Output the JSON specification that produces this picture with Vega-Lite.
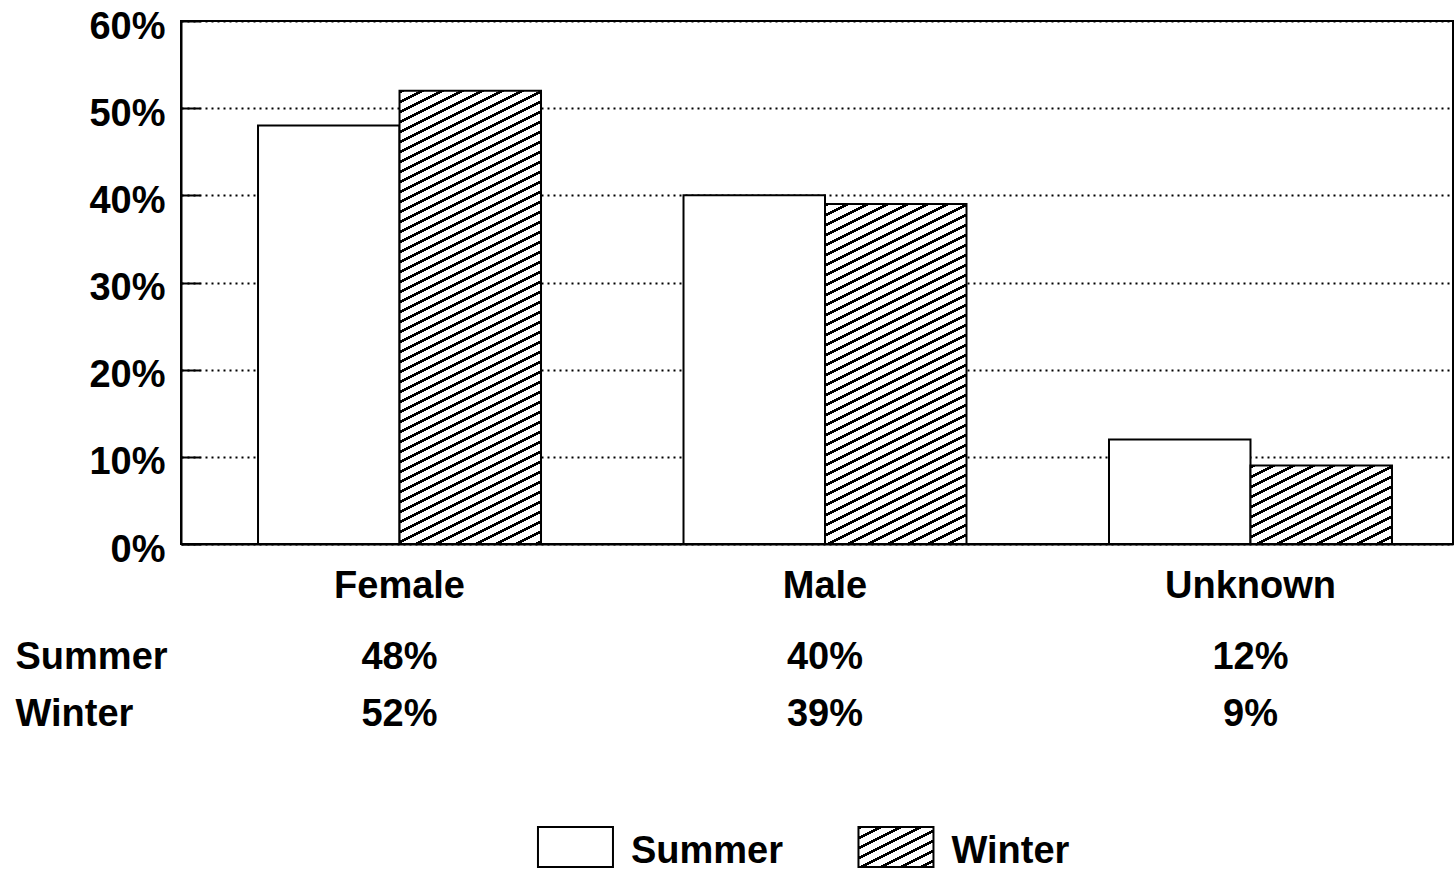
{
  "$schema": "https://vega.github.io/schema/vega-lite/v6.json",
  "background": "white",
  "padding": {"left": 15, "top": 7, "right": 0, "bottom": 0},
  "bounds": "flush",
  "spacing": 85.5,
  "config": {
    "view": {"stroke": null},
    "font": "Liberation Sans",
    "axis": {"labelFont": "Liberation Sans", "labelFontWeight": "bold", "labelFontSize": 38, "labelColor": "#000", "labelLimit": 400}
  },
  "datasets": {
    "shares": [
      {"gender": "Female", "season": "Summer", "share": 0.48},
      {"gender": "Female", "season": "Winter", "share": 0.52},
      {"gender": "Male", "season": "Summer", "share": 0.40},
      {"gender": "Male", "season": "Winter", "share": 0.39},
      {"gender": "Unknown", "season": "Summer", "share": 0.12},
      {"gender": "Unknown", "season": "Winter", "share": 0.09}
    ],
    "seasons": [
      {"season": "Summer"},
      {"season": "Winter"}
    ]
  },
  "vconcat": [
    {
      "width": 1272,
      "height": 523,
      "view": {"stroke": "#000", "strokeWidth": 2},
      "data": {"name": "shares"},
      "mark": {"type": "bar", "stroke": "#000", "strokeWidth": 2},
      "encoding": {
        "x": {
          "field": "gender", "type": "nominal", "sort": ["Female", "Male", "Unknown"],
          "scale": {"type": "band", "paddingInner": 0.3349, "paddingOuter": 0.1622, "align": 0.558},
          "axis": {"title": null, "labelAngle": 0, "ticks": false, "domain": true, "domainColor": "#000", "domainWidth": 2, "labelPadding": 42, "labelBaseline": "middle"}
        },
        "xOffset": {
          "field": "season", "type": "nominal", "sort": ["Summer", "Winter"],
          "scale": {"paddingInner": 0, "paddingOuter": 0}
        },
        "y": {
          "field": "share", "type": "quantitative",
          "scale": {"domain": [0, 0.6], "nice": false},
          "axis": {"title": null, "values": [0, 0.1, 0.2, 0.3, 0.4, 0.5, 0.6], "format": ".0%", "grid": true, "gridColor": "#000", "gridDash": [2, 4], "gridWidth": 2, "tickSize": -19, "tickWidth": 2, "tickColor": "#000", "labelPadding": 35, "labelOffset": 6, "domainColor": "#000", "domainWidth": 2, "labelFlush": false, "labelBaseline": "middle"}
        },
        "fill": {
          "condition": [
            {"test": "datum.season === 'Winter' && datum.gender === 'Female'", "value": {"gradient": "linear", "x1": 0, "y1": 0, "x2": 0.33612, "y2": 2.15355, "stops": [
{"offset":0,"color":"#000"},{"offset":0.003,"color":"#000"},{"offset":0.003,"color":"#fff"},{"offset":0.01,"color":"#fff"},
{"offset":0.01,"color":"#000"},{"offset":0.013,"color":"#000"},{"offset":0.013,"color":"#fff"},{"offset":0.02,"color":"#fff"},
{"offset":0.02,"color":"#000"},{"offset":0.023,"color":"#000"},{"offset":0.023,"color":"#fff"},{"offset":0.03,"color":"#fff"},
{"offset":0.03,"color":"#000"},{"offset":0.033,"color":"#000"},{"offset":0.033,"color":"#fff"},{"offset":0.04,"color":"#fff"},
{"offset":0.04,"color":"#000"},{"offset":0.043,"color":"#000"},{"offset":0.043,"color":"#fff"},{"offset":0.05,"color":"#fff"},
{"offset":0.05,"color":"#000"},{"offset":0.053,"color":"#000"},{"offset":0.053,"color":"#fff"},{"offset":0.06,"color":"#fff"},
{"offset":0.06,"color":"#000"},{"offset":0.063,"color":"#000"},{"offset":0.063,"color":"#fff"},{"offset":0.07,"color":"#fff"},
{"offset":0.07,"color":"#000"},{"offset":0.073,"color":"#000"},{"offset":0.073,"color":"#fff"},{"offset":0.08,"color":"#fff"},
{"offset":0.08,"color":"#000"},{"offset":0.083,"color":"#000"},{"offset":0.083,"color":"#fff"},{"offset":0.09,"color":"#fff"},
{"offset":0.09,"color":"#000"},{"offset":0.093,"color":"#000"},{"offset":0.093,"color":"#fff"},{"offset":0.1,"color":"#fff"},
{"offset":0.1,"color":"#000"},{"offset":0.103,"color":"#000"},{"offset":0.103,"color":"#fff"},{"offset":0.11,"color":"#fff"},
{"offset":0.11,"color":"#000"},{"offset":0.113,"color":"#000"},{"offset":0.113,"color":"#fff"},{"offset":0.12,"color":"#fff"},
{"offset":0.12,"color":"#000"},{"offset":0.123,"color":"#000"},{"offset":0.123,"color":"#fff"},{"offset":0.13,"color":"#fff"},
{"offset":0.13,"color":"#000"},{"offset":0.133,"color":"#000"},{"offset":0.133,"color":"#fff"},{"offset":0.14,"color":"#fff"},
{"offset":0.14,"color":"#000"},{"offset":0.143,"color":"#000"},{"offset":0.143,"color":"#fff"},{"offset":0.15,"color":"#fff"},
{"offset":0.15,"color":"#000"},{"offset":0.153,"color":"#000"},{"offset":0.153,"color":"#fff"},{"offset":0.16,"color":"#fff"},
{"offset":0.16,"color":"#000"},{"offset":0.163,"color":"#000"},{"offset":0.163,"color":"#fff"},{"offset":0.17,"color":"#fff"},
{"offset":0.17,"color":"#000"},{"offset":0.173,"color":"#000"},{"offset":0.173,"color":"#fff"},{"offset":0.18,"color":"#fff"},
{"offset":0.18,"color":"#000"},{"offset":0.183,"color":"#000"},{"offset":0.183,"color":"#fff"},{"offset":0.19,"color":"#fff"},
{"offset":0.19,"color":"#000"},{"offset":0.193,"color":"#000"},{"offset":0.193,"color":"#fff"},{"offset":0.2,"color":"#fff"},
{"offset":0.2,"color":"#000"},{"offset":0.203,"color":"#000"},{"offset":0.203,"color":"#fff"},{"offset":0.21,"color":"#fff"},
{"offset":0.21,"color":"#000"},{"offset":0.213,"color":"#000"},{"offset":0.213,"color":"#fff"},{"offset":0.22,"color":"#fff"},
{"offset":0.22,"color":"#000"},{"offset":0.223,"color":"#000"},{"offset":0.223,"color":"#fff"},{"offset":0.23,"color":"#fff"},
{"offset":0.23,"color":"#000"},{"offset":0.233,"color":"#000"},{"offset":0.233,"color":"#fff"},{"offset":0.24,"color":"#fff"},
{"offset":0.24,"color":"#000"},{"offset":0.243,"color":"#000"},{"offset":0.243,"color":"#fff"},{"offset":0.25,"color":"#fff"},
{"offset":0.25,"color":"#000"},{"offset":0.253,"color":"#000"},{"offset":0.253,"color":"#fff"},{"offset":0.26,"color":"#fff"},
{"offset":0.26,"color":"#000"},{"offset":0.263,"color":"#000"},{"offset":0.263,"color":"#fff"},{"offset":0.27,"color":"#fff"},
{"offset":0.27,"color":"#000"},{"offset":0.273,"color":"#000"},{"offset":0.273,"color":"#fff"},{"offset":0.28,"color":"#fff"},
{"offset":0.28,"color":"#000"},{"offset":0.283,"color":"#000"},{"offset":0.283,"color":"#fff"},{"offset":0.29,"color":"#fff"},
{"offset":0.29,"color":"#000"},{"offset":0.293,"color":"#000"},{"offset":0.293,"color":"#fff"},{"offset":0.3,"color":"#fff"},
{"offset":0.3,"color":"#000"},{"offset":0.303,"color":"#000"},{"offset":0.303,"color":"#fff"},{"offset":0.31,"color":"#fff"},
{"offset":0.31,"color":"#000"},{"offset":0.313,"color":"#000"},{"offset":0.313,"color":"#fff"},{"offset":0.32,"color":"#fff"},
{"offset":0.32,"color":"#000"},{"offset":0.323,"color":"#000"},{"offset":0.323,"color":"#fff"},{"offset":0.33,"color":"#fff"},
{"offset":0.33,"color":"#000"},{"offset":0.333,"color":"#000"},{"offset":0.333,"color":"#fff"},{"offset":0.34,"color":"#fff"},
{"offset":0.34,"color":"#000"},{"offset":0.343,"color":"#000"},{"offset":0.343,"color":"#fff"},{"offset":0.35,"color":"#fff"},
{"offset":0.35,"color":"#000"},{"offset":0.353,"color":"#000"},{"offset":0.353,"color":"#fff"},{"offset":0.36,"color":"#fff"},
{"offset":0.36,"color":"#000"},{"offset":0.363,"color":"#000"},{"offset":0.363,"color":"#fff"},{"offset":0.37,"color":"#fff"},
{"offset":0.37,"color":"#000"},{"offset":0.373,"color":"#000"},{"offset":0.373,"color":"#fff"},{"offset":0.38,"color":"#fff"},
{"offset":0.38,"color":"#000"},{"offset":0.383,"color":"#000"},{"offset":0.383,"color":"#fff"},{"offset":0.39,"color":"#fff"},
{"offset":0.39,"color":"#000"},{"offset":0.393,"color":"#000"},{"offset":0.393,"color":"#fff"},{"offset":0.4,"color":"#fff"},
{"offset":0.4,"color":"#000"},{"offset":0.403,"color":"#000"},{"offset":0.403,"color":"#fff"},{"offset":0.41,"color":"#fff"},
{"offset":0.41,"color":"#000"},{"offset":0.413,"color":"#000"},{"offset":0.413,"color":"#fff"},{"offset":0.42,"color":"#fff"},
{"offset":0.42,"color":"#000"},{"offset":0.423,"color":"#000"},{"offset":0.423,"color":"#fff"},{"offset":0.43,"color":"#fff"},
{"offset":0.43,"color":"#000"},{"offset":0.433,"color":"#000"},{"offset":0.433,"color":"#fff"},{"offset":0.44,"color":"#fff"},
{"offset":0.44,"color":"#000"},{"offset":0.443,"color":"#000"},{"offset":0.443,"color":"#fff"},{"offset":0.45,"color":"#fff"},
{"offset":0.45,"color":"#000"},{"offset":0.453,"color":"#000"},{"offset":0.453,"color":"#fff"},{"offset":0.46,"color":"#fff"},
{"offset":0.46,"color":"#000"},{"offset":0.463,"color":"#000"},{"offset":0.463,"color":"#fff"},{"offset":0.47,"color":"#fff"},
{"offset":0.47,"color":"#000"},{"offset":0.473,"color":"#000"},{"offset":0.473,"color":"#fff"},{"offset":0.48,"color":"#fff"},
{"offset":0.48,"color":"#000"},{"offset":0.483,"color":"#000"},{"offset":0.483,"color":"#fff"},{"offset":0.49,"color":"#fff"},
{"offset":0.49,"color":"#000"},{"offset":0.493,"color":"#000"},{"offset":0.493,"color":"#fff"},{"offset":0.5,"color":"#fff"},
{"offset":0.5,"color":"#000"},{"offset":0.503,"color":"#000"},{"offset":0.503,"color":"#fff"},{"offset":0.51,"color":"#fff"},
{"offset":0.51,"color":"#000"},{"offset":0.513,"color":"#000"},{"offset":0.513,"color":"#fff"},{"offset":0.52,"color":"#fff"},
{"offset":0.52,"color":"#000"},{"offset":0.523,"color":"#000"},{"offset":0.523,"color":"#fff"},{"offset":0.53,"color":"#fff"}
            ]}},
            {"test": "datum.season === 'Winter' && datum.gender === 'Male'", "value": {"gradient": "linear", "x1": 0, "y1": 0, "x2": 0.58679, "y2": 2.81946, "stops": [
{"offset":0,"color":"#000"},{"offset":0.003,"color":"#000"},{"offset":0.003,"color":"#fff"},{"offset":0.01,"color":"#fff"},
{"offset":0.01,"color":"#000"},{"offset":0.013,"color":"#000"},{"offset":0.013,"color":"#fff"},{"offset":0.02,"color":"#fff"},
{"offset":0.02,"color":"#000"},{"offset":0.023,"color":"#000"},{"offset":0.023,"color":"#fff"},{"offset":0.03,"color":"#fff"},
{"offset":0.03,"color":"#000"},{"offset":0.033,"color":"#000"},{"offset":0.033,"color":"#fff"},{"offset":0.04,"color":"#fff"},
{"offset":0.04,"color":"#000"},{"offset":0.043,"color":"#000"},{"offset":0.043,"color":"#fff"},{"offset":0.05,"color":"#fff"},
{"offset":0.05,"color":"#000"},{"offset":0.053,"color":"#000"},{"offset":0.053,"color":"#fff"},{"offset":0.06,"color":"#fff"},
{"offset":0.06,"color":"#000"},{"offset":0.063,"color":"#000"},{"offset":0.063,"color":"#fff"},{"offset":0.07,"color":"#fff"},
{"offset":0.07,"color":"#000"},{"offset":0.073,"color":"#000"},{"offset":0.073,"color":"#fff"},{"offset":0.08,"color":"#fff"},
{"offset":0.08,"color":"#000"},{"offset":0.083,"color":"#000"},{"offset":0.083,"color":"#fff"},{"offset":0.09,"color":"#fff"},
{"offset":0.09,"color":"#000"},{"offset":0.093,"color":"#000"},{"offset":0.093,"color":"#fff"},{"offset":0.1,"color":"#fff"},
{"offset":0.1,"color":"#000"},{"offset":0.103,"color":"#000"},{"offset":0.103,"color":"#fff"},{"offset":0.11,"color":"#fff"},
{"offset":0.11,"color":"#000"},{"offset":0.113,"color":"#000"},{"offset":0.113,"color":"#fff"},{"offset":0.12,"color":"#fff"},
{"offset":0.12,"color":"#000"},{"offset":0.123,"color":"#000"},{"offset":0.123,"color":"#fff"},{"offset":0.13,"color":"#fff"},
{"offset":0.13,"color":"#000"},{"offset":0.133,"color":"#000"},{"offset":0.133,"color":"#fff"},{"offset":0.14,"color":"#fff"},
{"offset":0.14,"color":"#000"},{"offset":0.143,"color":"#000"},{"offset":0.143,"color":"#fff"},{"offset":0.15,"color":"#fff"},
{"offset":0.15,"color":"#000"},{"offset":0.153,"color":"#000"},{"offset":0.153,"color":"#fff"},{"offset":0.16,"color":"#fff"},
{"offset":0.16,"color":"#000"},{"offset":0.163,"color":"#000"},{"offset":0.163,"color":"#fff"},{"offset":0.17,"color":"#fff"},
{"offset":0.17,"color":"#000"},{"offset":0.173,"color":"#000"},{"offset":0.173,"color":"#fff"},{"offset":0.18,"color":"#fff"},
{"offset":0.18,"color":"#000"},{"offset":0.183,"color":"#000"},{"offset":0.183,"color":"#fff"},{"offset":0.19,"color":"#fff"},
{"offset":0.19,"color":"#000"},{"offset":0.193,"color":"#000"},{"offset":0.193,"color":"#fff"},{"offset":0.2,"color":"#fff"},
{"offset":0.2,"color":"#000"},{"offset":0.203,"color":"#000"},{"offset":0.203,"color":"#fff"},{"offset":0.21,"color":"#fff"},
{"offset":0.21,"color":"#000"},{"offset":0.213,"color":"#000"},{"offset":0.213,"color":"#fff"},{"offset":0.22,"color":"#fff"},
{"offset":0.22,"color":"#000"},{"offset":0.223,"color":"#000"},{"offset":0.223,"color":"#fff"},{"offset":0.23,"color":"#fff"},
{"offset":0.23,"color":"#000"},{"offset":0.233,"color":"#000"},{"offset":0.233,"color":"#fff"},{"offset":0.24,"color":"#fff"},
{"offset":0.24,"color":"#000"},{"offset":0.243,"color":"#000"},{"offset":0.243,"color":"#fff"},{"offset":0.25,"color":"#fff"},
{"offset":0.25,"color":"#000"},{"offset":0.253,"color":"#000"},{"offset":0.253,"color":"#fff"},{"offset":0.26,"color":"#fff"},
{"offset":0.26,"color":"#000"},{"offset":0.263,"color":"#000"},{"offset":0.263,"color":"#fff"},{"offset":0.27,"color":"#fff"},
{"offset":0.27,"color":"#000"},{"offset":0.273,"color":"#000"},{"offset":0.273,"color":"#fff"},{"offset":0.28,"color":"#fff"},
{"offset":0.28,"color":"#000"},{"offset":0.283,"color":"#000"},{"offset":0.283,"color":"#fff"},{"offset":0.29,"color":"#fff"},
{"offset":0.29,"color":"#000"},{"offset":0.293,"color":"#000"},{"offset":0.293,"color":"#fff"},{"offset":0.3,"color":"#fff"},
{"offset":0.3,"color":"#000"},{"offset":0.303,"color":"#000"},{"offset":0.303,"color":"#fff"},{"offset":0.31,"color":"#fff"},
{"offset":0.31,"color":"#000"},{"offset":0.313,"color":"#000"},{"offset":0.313,"color":"#fff"},{"offset":0.32,"color":"#fff"},
{"offset":0.32,"color":"#000"},{"offset":0.323,"color":"#000"},{"offset":0.323,"color":"#fff"},{"offset":0.33,"color":"#fff"},
{"offset":0.33,"color":"#000"},{"offset":0.333,"color":"#000"},{"offset":0.333,"color":"#fff"},{"offset":0.34,"color":"#fff"},
{"offset":0.34,"color":"#000"},{"offset":0.343,"color":"#000"},{"offset":0.343,"color":"#fff"},{"offset":0.35,"color":"#fff"},
{"offset":0.35,"color":"#000"},{"offset":0.353,"color":"#000"},{"offset":0.353,"color":"#fff"},{"offset":0.36,"color":"#fff"},
{"offset":0.36,"color":"#000"},{"offset":0.363,"color":"#000"},{"offset":0.363,"color":"#fff"},{"offset":0.37,"color":"#fff"},
{"offset":0.37,"color":"#000"},{"offset":0.373,"color":"#000"},{"offset":0.373,"color":"#fff"},{"offset":0.38,"color":"#fff"},
{"offset":0.38,"color":"#000"},{"offset":0.383,"color":"#000"},{"offset":0.383,"color":"#fff"},{"offset":0.39,"color":"#fff"},
{"offset":0.39,"color":"#000"},{"offset":0.393,"color":"#000"},{"offset":0.393,"color":"#fff"},{"offset":0.4,"color":"#fff"},
{"offset":0.4,"color":"#000"},{"offset":0.403,"color":"#000"},{"offset":0.403,"color":"#fff"},{"offset":0.41,"color":"#fff"},
{"offset":0.41,"color":"#000"},{"offset":0.413,"color":"#000"},{"offset":0.413,"color":"#fff"},{"offset":0.42,"color":"#fff"}
            ]}},
            {"test": "datum.season === 'Winter' && datum.gender === 'Unknown'", "value": {"gradient": "linear", "x1": 0, "y1": 0, "x2": 6.3396, "y2": 7.0296, "stops": [
{"offset":0,"color":"#000"},{"offset":0.003,"color":"#000"},{"offset":0.003,"color":"#fff"},{"offset":0.01,"color":"#fff"},
{"offset":0.01,"color":"#000"},{"offset":0.013,"color":"#000"},{"offset":0.013,"color":"#fff"},{"offset":0.02,"color":"#fff"},
{"offset":0.02,"color":"#000"},{"offset":0.023,"color":"#000"},{"offset":0.023,"color":"#fff"},{"offset":0.03,"color":"#fff"},
{"offset":0.03,"color":"#000"},{"offset":0.033,"color":"#000"},{"offset":0.033,"color":"#fff"},{"offset":0.04,"color":"#fff"},
{"offset":0.04,"color":"#000"},{"offset":0.043,"color":"#000"},{"offset":0.043,"color":"#fff"},{"offset":0.05,"color":"#fff"},
{"offset":0.05,"color":"#000"},{"offset":0.053,"color":"#000"},{"offset":0.053,"color":"#fff"},{"offset":0.06,"color":"#fff"},
{"offset":0.06,"color":"#000"},{"offset":0.063,"color":"#000"},{"offset":0.063,"color":"#fff"},{"offset":0.07,"color":"#fff"},
{"offset":0.07,"color":"#000"},{"offset":0.073,"color":"#000"},{"offset":0.073,"color":"#fff"},{"offset":0.08,"color":"#fff"},
{"offset":0.08,"color":"#000"},{"offset":0.083,"color":"#000"},{"offset":0.083,"color":"#fff"},{"offset":0.09,"color":"#fff"},
{"offset":0.09,"color":"#000"},{"offset":0.093,"color":"#000"},{"offset":0.093,"color":"#fff"},{"offset":0.1,"color":"#fff"},
{"offset":0.1,"color":"#000"},{"offset":0.103,"color":"#000"},{"offset":0.103,"color":"#fff"},{"offset":0.11,"color":"#fff"},
{"offset":0.11,"color":"#000"},{"offset":0.113,"color":"#000"},{"offset":0.113,"color":"#fff"},{"offset":0.12,"color":"#fff"},
{"offset":0.12,"color":"#000"},{"offset":0.123,"color":"#000"},{"offset":0.123,"color":"#fff"},{"offset":0.13,"color":"#fff"},
{"offset":0.13,"color":"#000"},{"offset":0.133,"color":"#000"},{"offset":0.133,"color":"#fff"},{"offset":0.14,"color":"#fff"},
{"offset":0.14,"color":"#000"},{"offset":0.143,"color":"#000"},{"offset":0.143,"color":"#fff"},{"offset":0.15,"color":"#fff"}
            ]}}
          ],
          "value": "#fff"
        }
      }
    },
    {
      "width": 1272,
      "height": 114,
      "data": {"name": "shares"},
      "mark": {"type": "text", "font": "Liberation Sans", "fontWeight": "bold", "fontSize": 38, "color": "#000", "baseline": "middle", "align": "center"},
      "encoding": {
        "x": {
          "field": "gender", "type": "nominal", "sort": ["Female", "Male", "Unknown"],
          "scale": {"type": "band", "paddingInner": 0.3349, "paddingOuter": 0.1622, "align": 0.558},
          "axis": null
        },
        "y": {
          "field": "season", "type": "nominal", "sort": ["Summer", "Winter"],
          "scale": {"type": "band", "paddingInner": 0, "paddingOuter": 0},
          "axis": {"title": null, "ticks": false, "domain": false, "grid": false, "labelAlign": "left", "labelPadding": 166, "labelBaseline": "middle"}
        },
        "text": {"field": "share", "type": "quantitative", "format": ".0%"}
      }
    },
    {
      "width": 961.5,
      "height": 36,
      "data": {"name": "seasons"},
      "encoding": {
        "x": {
          "field": "season", "type": "nominal", "sort": ["Summer", "Winter"],
          "scale": {"type": "point", "padding": 1, "align": 0.6154},
          "axis": null
        }
      },
      "layer": [
        {
          "mark": {"type": "point", "shape": "M-1,-0.5333H1V0.5333H-1Z", "size": 5625, "filled": true, "opacity": 1, "stroke": "#000", "strokeWidth": 2},
          "encoding": {
            "fill": {
              "condition": {"test": "datum.season === 'Winter'", "value": {"gradient": "linear", "x1": 0, "y1": 0, "x2": 12.474, "y2": 13.306, "stops": [
{"offset":0,"color":"#000"},{"offset":0.003,"color":"#000"},{"offset":0.003,"color":"#fff"},{"offset":0.01,"color":"#fff"},
{"offset":0.01,"color":"#000"},{"offset":0.013,"color":"#000"},{"offset":0.013,"color":"#fff"},{"offset":0.02,"color":"#fff"},
{"offset":0.02,"color":"#000"},{"offset":0.023,"color":"#000"},{"offset":0.023,"color":"#fff"},{"offset":0.03,"color":"#fff"},
{"offset":0.03,"color":"#000"},{"offset":0.033,"color":"#000"},{"offset":0.033,"color":"#fff"},{"offset":0.04,"color":"#fff"},
{"offset":0.04,"color":"#000"},{"offset":0.043,"color":"#000"},{"offset":0.043,"color":"#fff"},{"offset":0.05,"color":"#fff"},
{"offset":0.05,"color":"#000"},{"offset":0.053,"color":"#000"},{"offset":0.053,"color":"#fff"},{"offset":0.06,"color":"#fff"},
{"offset":0.06,"color":"#000"},{"offset":0.063,"color":"#000"},{"offset":0.063,"color":"#fff"},{"offset":0.07,"color":"#fff"},
{"offset":0.07,"color":"#000"},{"offset":0.073,"color":"#000"},{"offset":0.073,"color":"#fff"},{"offset":0.08,"color":"#fff"}
              ]}},
              "value": "#fff"
            }
          }
        },
        {
          "mark": {"type": "text", "align": "left", "baseline": "middle", "dx": 55.5, "dy": 5, "font": "Liberation Sans", "fontWeight": "bold", "fontSize": 38, "color": "#000"},
          "encoding": {
            "text": {"field": "season", "type": "nominal"}
          }
        }
      ]
    }
  ]
}
